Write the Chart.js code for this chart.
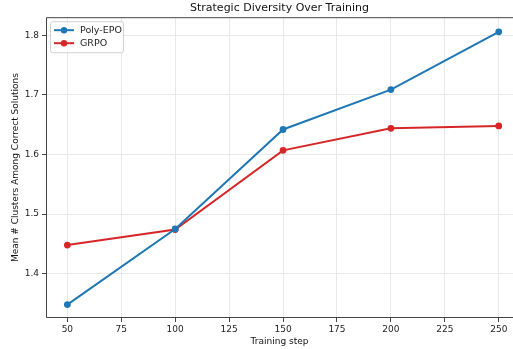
<!DOCTYPE html>
<html><head><meta charset="utf-8">
<script src="https://cdn.jsdelivr.net/npm/chart.js@4"></script>
<style>html,body{margin:0;padding:0;background:#fff}#wrap{width:513px;height:349px}</style>
</head><body><div id="wrap"><canvas id="c" width="513" height="349"></canvas></div>
<script>
const steps = [50, 100, 150, 200, 250];
const polyEPO = [1.348, 1.475, 1.642, 1.709, 1.806];
const grpo = [1.448, 1.474, 1.607, 1.644, 1.648];
const xTicks = [50, 75, 100, 125, 150, 175, 200, 225, 250];
const yTicks = [1.4, 1.5, 1.6, 1.7, 1.8];
const FONT = "'DejaVu Sans', sans-serif";

const frame = {
  id: 'frame',
  afterDraw(chart) {
    const a = chart.chartArea, ctx = chart.ctx;
    ctx.save();
    ctx.strokeStyle = '#444'; ctx.lineWidth = 1;
    ctx.beginPath();
    ctx.moveTo(a.right + 1, a.top + 0.5);
    ctx.lineTo(a.left + 0.5, a.top + 0.5);
    ctx.lineTo(a.left + 0.5, a.bottom - 0.5);
    ctx.lineTo(a.right + 1, a.bottom - 0.5);
    ctx.stroke();
    // legend
    const x0 = a.left + 4, y0 = a.top + 4, w = 73, h = 31;
    ctx.fillStyle = 'rgba(255,255,255,0.85)';
    ctx.strokeStyle = '#d0d0d0';
    ctx.beginPath(); ctx.roundRect(x0 + 0.5, y0 + 0.5, w, h, 2); ctx.fill(); ctx.stroke();
    ctx.font = '9.5px ' + FONT; ctx.textBaseline = 'middle'; ctx.textAlign = 'left';
    chart.data.datasets.forEach((ds, i) => {
      const yy = y0 + 9 + i * 13;
      ctx.strokeStyle = ds.borderColor; ctx.lineWidth = 2;
      ctx.beginPath(); ctx.moveTo(x0 + 4, yy); ctx.lineTo(x0 + 24, yy); ctx.stroke();
      ctx.fillStyle = ds.borderColor;
      ctx.beginPath(); ctx.arc(x0 + 14, yy, 3.2, 0, Math.PI * 2); ctx.fill();
      ctx.fillStyle = '#222';
      ctx.fillText(ds.label, x0 + 30, yy + 0.5);
    });
    ctx.restore();
  }
};

new Chart(document.getElementById('c'), {
  type: 'line',
  data: {
    datasets: [
      { label: 'Poly-EPO', data: steps.map((s, i) => ({x: s, y: polyEPO[i]})), borderColor: '#1f77b4', backgroundColor: '#1f77b4', borderWidth: 2, pointRadius: 3.4, pointBorderWidth: 0, tension: 0 },
      { label: 'GRPO', data: steps.map((s, i) => ({x: s, y: grpo[i]})), borderColor: '#d62728', backgroundColor: '#d62728', borderWidth: 2, pointRadius: 3.4, pointBorderWidth: 0, tension: 0 }
    ]
  },
  options: {
    responsive: false, animation: false, devicePixelRatio: 1,
    layout: { autoPadding: false, padding: { left: 0, right: 0, top: 0, bottom: 0 } },
    plugins: {
      legend: { display: false },
      tooltip: { enabled: false },
      title: { display: true, text: 'Strategic Diversity Over Training', fullSize: false, color: '#111',
        font: { family: FONT, size: 11, weight: 'normal' }, padding: { top: 2, bottom: 2 } }
    },
    scales: {
      x: {
        type: 'linear', min: 40.1, max: 256.6,
        afterBuildTicks(s) { s.ticks = xTicks.map(v => ({value: v})); },
        afterFit(s) { s.height = 31; s.paddingLeft = 0; s.paddingRight = 0; },
        grid: { color: '#e8e8e8', lineWidth: 1, tickLength: 4, tickColor: '#444' },
        border: { display: false },
        ticks: { color: '#222', font: { family: FONT, size: 9 }, padding: 2, maxRotation: 0, autoSkip: false },
        title: { display: true, text: 'Training step', color: '#111', font: { family: FONT, size: 9 }, padding: { top: 0, bottom: 2 } }
      },
      y: {
        type: 'linear', min: 1.3255, max: 1.8305,
        afterBuildTicks(s) { s.ticks = yTicks.map(v => ({value: v})); },
        afterFit(s) { s.width = 46; s.paddingTop = 0; s.paddingBottom = 0; },
        grid: { color: '#e8e8e8', lineWidth: 1, tickLength: 4, tickColor: '#444' },
        border: { display: false },
        ticks: { color: '#222', font: { family: FONT, size: 9 }, padding: 3, autoSkip: false, callback: v => v.toFixed(1) },
        title: { display: true, text: 'Mean # Clusters Among Correct Solutions', color: '#111', font: { family: FONT, size: 9 }, padding: { top: 10, bottom: 3 } }
      }
    }
  },
  plugins: [frame]
});
</script></body></html>
